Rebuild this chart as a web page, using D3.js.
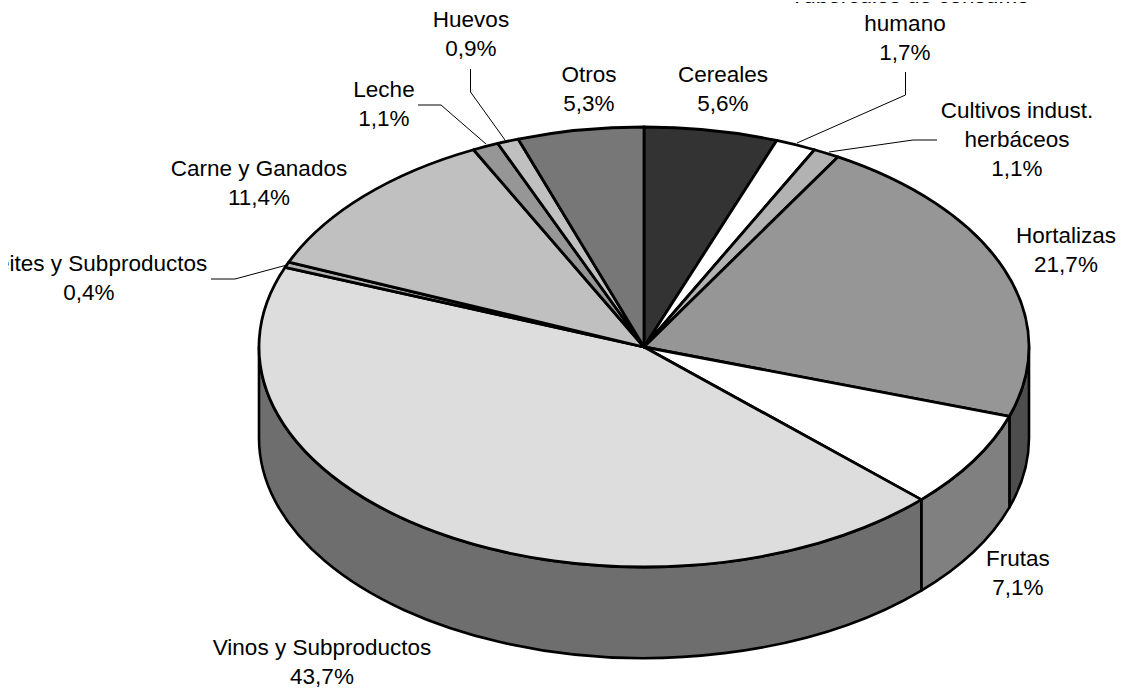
<!DOCTYPE html>
<html><head><meta charset="utf-8">
<script src="https://cdn.jsdelivr.net/npm/d3@7"></script>
<style>html,body{margin:0;background:#fff}svg{display:block}text{font-family:"Liberation Sans",Arial,sans-serif;font-size:22.5px;fill:#000}</style>
</head><body><div id="c"></div>
<script>
const categories=["Cereales","Tubérculos de consumo humano","Cultivos indust. herbáceos","Hortalizas","Frutas","Vinos y Subproductos","Aceites y Subproductos","Carne y Ganados","Leche","Huevos","Otros"];
const values=[5.6,1.7,1.1,21.7,7.1,43.7,0.4,11.4,1.1,0.9,5.3];
const topColors=["#333333","#ffffff","#b2b2b2","#969696","#ffffff","#dddddd","#b2b2b2","#c0c0c0","#969696","#c0c0c0","#777777"];
const wallColors={3:"#4d4d4d",4:"#808080",5:"#6e6e6e"};
const labelLines=[["Cereales","5,6%"],["Tubérculos de consumo"],["humano","1,7%"],["Cultivos indust.","herbáceos","1,1%"],["Hortalizas","21,7%"],["Frutas","7,1%"],["Vinos y Subproductos","43,7%"],["Aceites y Subproductos","0,4%"],["Carne y Ganados","11,4%"],["Leche","1,1%"],["Huevos","0,9%"],["Otros","5,3%"]];
const labelPos=[[723,82],[910,3],[905,31],[1017,118],[1066,243],[1018,566],[322,655],[89,271],[259,176],[384,97],[471,27],[589,82]];
const leaders=[null,[[797,143],[905.5,95],[905.5,72]],[[829,152],[913,140],[937,140]],null,null,null,[[287,265],[235,279],[211,279]],null,[[486,144],[441,105],[418,105]],[[505,140],[470.5,92],[470.5,69]],null];

const W=1121,H=688,cx=644,cy=347,rx=385,ry=220,depth=91;
const svg=d3.select("#c").append("svg").attr("width",W).attr("height",H);
svg.append("defs").append("clipPath").attr("id","page").append("rect").attr("x",8).attr("y",2).attr("width",W).attr("height",H);
const slices=d3.pie().sort(null)(values);
const X=a=>cx+rx*Math.sin(a),Y=a=>cy-ry*Math.cos(a);

const g=svg.append("g");
const lo=Math.PI/2,hi=3*Math.PI/2;
slices.forEach((s,i)=>{
  const a0=Math.max(s.startAngle,lo),a1=Math.min(s.endAngle,hi);
  if(a1<=a0||!wallColors[i])return;
  const p=`M${X(a0)},${Y(a0)}A${rx},${ry} 0 ${a1-a0>Math.PI?1:0} 1 ${X(a1)},${Y(a1)}L${X(a1)},${Y(a1)+depth}A${rx},${ry} 0 ${a1-a0>Math.PI?1:0} 0 ${X(a0)},${Y(a0)+depth}Z`;
  g.append("path").attr("d",p).attr("fill",wallColors[i]).attr("stroke","#000").attr("stroke-width",2.6).attr("stroke-linejoin","round");
});

const arc=d3.arc().innerRadius(0).outerRadius(rx);
svg.append("g").attr("transform",`translate(${cx},${cy}) scale(1,${ry/rx})`)
 .selectAll("path").data(slices).join("path")
 .attr("d",arc).attr("fill",(d,i)=>topColors[i])
 .attr("stroke","#000").attr("stroke-width",2.8).attr("stroke-linejoin","round")
 .attr("vector-effect","non-scaling-stroke");

const line=d3.line();
svg.append("g").selectAll("path").data(leaders.filter(Boolean)).join("path")
 .attr("d",line).attr("fill","none").attr("stroke","#000").attr("stroke-width",1);

const lab=svg.append("g").attr("clip-path","url(#page)");
labelLines.forEach((ls,i)=>{
  const t=lab.append("text").attr("text-anchor","middle");
  ls.forEach((l,j)=>t.append("tspan").attr("x",labelPos[i][0]).attr("y",labelPos[i][1]+j*29).text(l));
});
</script></body></html>
